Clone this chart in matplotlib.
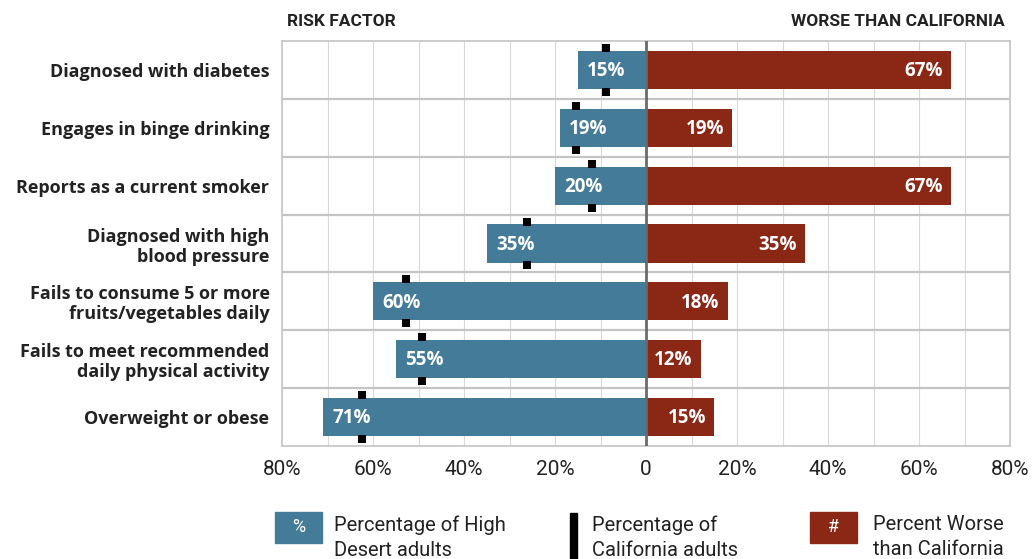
import matplotlib
matplotlib.use("Agg")
import matplotlib.pyplot as plt
from matplotlib.patches import Rectangle

# ---- data ----
categories = [
    "Diagnosed with diabetes",
    "Engages in binge drinking",
    "Reports as a current smoker",
    "Diagnosed with high\nblood pressure",
    "Fails to consume 5 or more\nfruits/vegetables daily",
    "Fails to meet recommended\ndaily physical activity",
    "Overweight or obese",
]
high_desert = [15, 19, 20, 35, 60, 55, 71]
california = [8.7, 15.4, 11.8, 26.1, 52.8, 49.2, 62.4]
worse_than_ca = [67, 19, 67, 35, 18, 12, 15]
tick_values = [-80, -60, -40, -20, 0, 20, 40, 60, 80]
tick_labels = ["80%", "60%", "40%", "20%", "0", "20%", "40%", "60%", "80%"]

BLUE = "#437b98"
RED = "#8b2715"
DARK = "#222222"

cond = ["Roboto", "DejaVu Sans"]
boldf = ["Open Sans", "DejaVu Sans"]

fig = plt.figure(figsize=(10.33, 5.59), dpi=100)
ax = fig.add_axes([282 / 1033, 1 - 446 / 559, 728 / 1033, 405 / 559])

n = len(categories)
ypos = list(range(n))
h = 0.66

ax.barh(ypos, [-v for v in high_desert], height=h, color=BLUE, zorder=3)
ax.barh(ypos, worse_than_ca, height=h, color=RED, zorder=3)

# California markers (top & bottom of each blue bar)
off = h / 2 + 0.05
ax.scatter([-v for v in california], [y - off for y in ypos], marker="s", s=28,
           color="black", zorder=5, linewidths=0)
ax.scatter([-v for v in california], [y + off for y in ypos], marker="s", s=28,
           color="black", zorder=5, linewidths=0)

# value labels
for y, v in zip(ypos, high_desert):
    ax.text(-v + 2.1, y + 0.02, f"{v}%", color="white", fontsize=13.5,
            fontweight="bold", family=boldf, ha="left", va="center", zorder=6)
for y, v in zip(ypos, worse_than_ca):
    ax.text(v - 1.8, y + 0.02, f"{v}%", color="white", fontsize=13.5,
            fontweight="bold", family=boldf, ha="right", va="center", zorder=6)

ax.set_xlim(-80, 80)
ax.set_ylim(n - 0.5, -0.5)

# grid
for x in range(-70, 80, 10):
    if x != 0:
        ax.axvline(x, color="#d9d9d9", lw=0.8, zorder=1)
for y in range(n - 1):
    ax.axhline(y + 0.5, color="#c4c4c4", lw=1.6, zorder=2)
ax.axvline(0, color="#6a6a6a", lw=2, zorder=4)

for s in ax.spines.values():
    s.set_color("#c4c4c4")
    s.set_linewidth(1.2)

ax.set_xticks(tick_values)
ax.set_xticklabels(tick_labels, fontsize=15, color=DARK, family=cond)
ax.set_yticks(ypos)
ax.set_yticklabels(categories, fontsize=13, fontweight="bold", color=DARK,
                   family=boldf, linespacing=1.15)
ax.tick_params(axis="x", length=0, pad=10)
ax.tick_params(axis="y", length=0, pad=9)

# headers
fig.text(287 / 1033, 1 - 22 / 559, "RISK FACTOR", fontsize=12.5, fontweight="bold",
         family=cond, color=DARK, ha="left", va="center")
fig.text(1005 / 1033, 1 - 22 / 559, "WORSE THAN CALIFORNIA", fontsize=12.5,
         fontweight="bold", family=cond, color=DARK, ha="right", va="center")

# legend
def box(x0, color, sym):
    fig.add_artist(Rectangle((x0 / 1033, 1 - 543 / 559), 47 / 1033, 31 / 559,
                             transform=fig.transFigure, color=color))
    fig.text((x0 + 23.5) / 1033, 1 - 527.5 / 559, sym, color="white", fontsize=13,
             family=cond, ha="center", va="center")

box(275, BLUE, "%")
box(810, RED, "#")
fig.add_artist(Rectangle((570 / 1033, 1 - 559 / 559), 7 / 1033, 46 / 559,
                         transform=fig.transFigure, color="black"))
legend_texts = [(334, "Percentage of High\nDesert adults"),
                (592, "Percentage of\nCalifornia adults"),
                (873, "Percent Worse\nthan California")]
for x0, t in legend_texts:
    fig.text(x0 / 1033, 1 - 515 / 559, t, fontsize=14.5, family=cond, color=DARK,
             ha="left", va="top", linespacing=1.4)

fig.savefig("out.png", dpi=100)
